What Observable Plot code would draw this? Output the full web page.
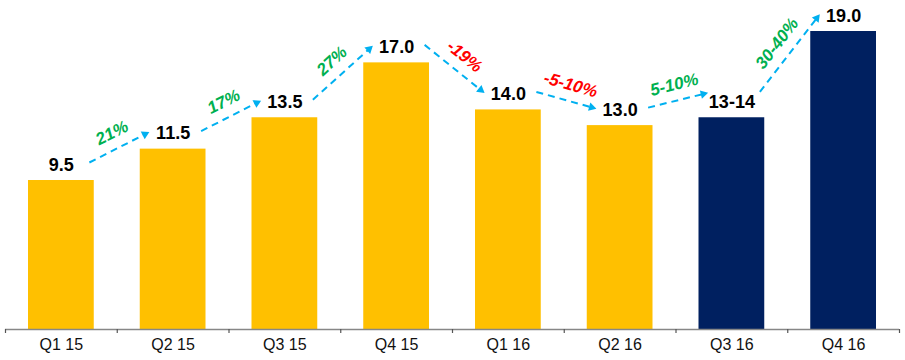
<!DOCTYPE html>
<html>
<head>
<meta charset="utf-8">
<script src="https://cdn.jsdelivr.net/npm/d3@7"></script>
<script src="https://cdn.jsdelivr.net/npm/@observablehq/plot@0.6"></script>
<style>
  html, body { margin: 0; padding: 0; background: #fff; }
</style>
</head>
<body>
<div id="chart"></div>
<script>
// ---- data ----
const quarters = ["Q1 15", "Q2 15", "Q3 15", "Q4 15", "Q1 16", "Q2 16", "Q3 16", "Q4 16"];
const rangeLow  = [9.5, 11.5, 13.5, 17.0, 14.0, 13.0, 13, 19.0];
const rangeHigh = [9.5, 11.5, 13.5, 17.0, 14.0, 13.0, 14, 19.0];
const isForecast = [false, false, false, false, false, false, true, true];
const changeLabels = ["21%", "17%", "27%", "-19%", "-5-10%", "5-10%", "30-40%"];

const values = rangeLow.map((lo, i) => (lo + rangeHigh[i]) / 2);
const valueLabels = rangeLow.map((lo, i) => lo === rangeHigh[i] ? lo.toFixed(1) : `${lo}-${rangeHigh[i]}`);

// ---- layout ----
const W = 905, H = 360, mL = 5, mR = 6, mT = 31, mB = 31;
const yMax = d3.max(values);
const xDomain = [0, quarters.length];
const yDomain = [0, yMax];

const xS = Plot.scale({x: {type: "linear", domain: xDomain, range: [mL, W - mR]}});
const yS = Plot.scale({y: {type: "linear", domain: yDomain, range: [H - mB, mT]}});

const YELLOW = "#FFC000", NAVY = "#002060", BLUE = "#00B0F0", GREEN = "#00B050", RED = "#FF0000";

const bars = quarters.map((q, i) => ({i, q, v: values[i], label: valueLabels[i], forecast: isForecast[i]}));

// arrows between consecutive value labels (pixel geometry from the scales, mapped back to data units)
const arrows = changeLabels.map((lab, k) => {
  const px0 = xS.apply(k + 0.5) + 28, py0 = yS.apply(rangeHigh[k]) - 18;
  const px1 = xS.apply(k + 1.5) - 24, py1 = yS.apply(rangeHigh[k + 1]) - 17;
  const len = Math.hypot(px1 - px0, py1 - py0);
  const ux = (px1 - px0) / len, uy = (py1 - py0) / len;
  const ang = Math.atan2(py1 - py0, px1 - px0) * 180 / Math.PI;
  const lx = px1 - ux * 6, ly = py1 - uy * 6;
  const hx = px1 - ux * 4.7, hy = py1 - uy * 4.7;
  const mx = (px0 + px1) / 2 + uy * 16, my = (py0 + py1) / 2 - ux * 16;
  return {
    label: lab,
    color: lab.startsWith("-") ? RED : GREEN,
    ang,
    x1: xS.invert(px0), y1: yS.invert(py0),
    x2: xS.invert(lx), y2: yS.invert(ly),
    hx: xS.invert(hx), hy: yS.invert(hy),
    mx: xS.invert(mx), my: yS.invert(my)
  };
});

const chart = Plot.plot({
  width: W,
  height: H,
  marginLeft: mL,
  marginRight: mR,
  marginTop: mT,
  marginBottom: mB,
  x: {domain: xDomain, axis: null},
  y: {domain: yDomain, axis: null},
  style: {fontFamily: "'Liberation Sans', Arial, sans-serif", background: "#fff", color: "#000"},
  marks: [
    Plot.rectY(bars, {
      x1: d => d.i, x2: d => d.i + 1, y1: 0, y2: "v",
      insetLeft: 23, insetRight: 23,
      fill: d => d.forecast ? NAVY : YELLOW
    }),
    Plot.ruleY([0], {stroke: "#878787", strokeWidth: 1.5}),
    Plot.axisX(d3.range(0, quarters.length + 1), {
      tickSize: 4, tickFormat: () => "", stroke: "#555", strokeWidth: 1.2
    }),
    Plot.text(bars, {
      x: d => d.i + 0.5, y: 0, text: "q", dy: 20, lineAnchor: "bottom",
      fontSize: 16, fill: "#111"
    }),
    Plot.text(bars, {
      x: d => d.i + 0.5, y: "v", text: "label", dy: -10, lineAnchor: "bottom",
      fontSize: 18, fontWeight: "bold", fill: "#000"
    }),
    Plot.link(arrows, {
      x1: "x1", y1: "y1", x2: "x2", y2: "y2",
      stroke: BLUE, strokeWidth: 2, strokeDasharray: "7,5"
    }),
    Plot.dot(arrows, {
      x: "hx", y: "hy", symbol: "triangle", r: 3.2, fill: BLUE, stroke: "none",
      rotate: d => d.ang + 90
    }),
    Plot.text(arrows, {
      x: "mx", y: "my", text: "label", rotate: "ang",
      fill: "color", fontSize: 17, fontWeight: "bold", fontStyle: "italic",
      textAnchor: "middle", lineAnchor: "middle"
    })
  ]
});

document.getElementById("chart").appendChild(chart);
</script>
</body>
</html>
